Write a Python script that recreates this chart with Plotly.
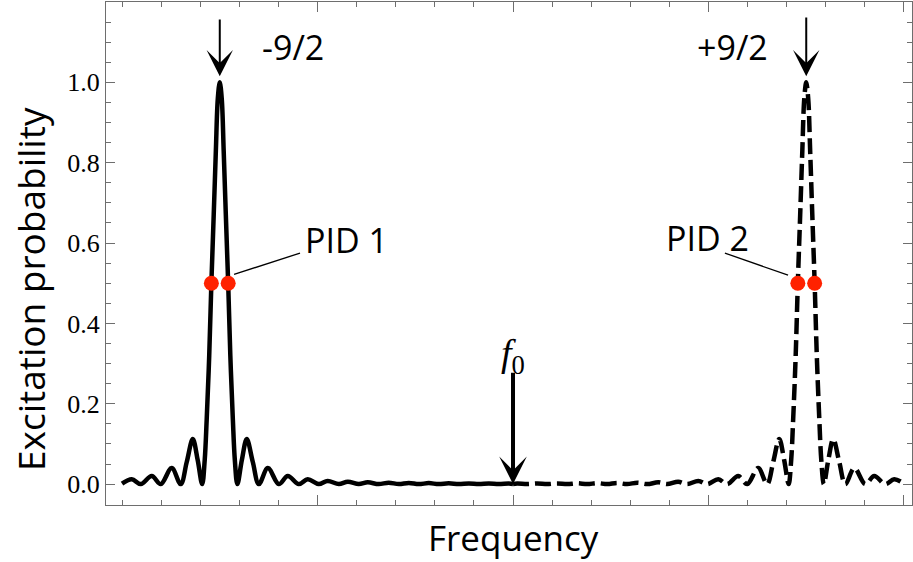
import plotly.graph_objects as go

# ---- data (frequency in arbitrary units, f0 = 0) ----
solid_x = [-2.000, -1.950, -1.904, -1.848, -1.802, -1.746, -1.700, -1.669, -1.638, -1.613,
           -1.590, -1.577, -1.567, -1.554, -1.543, -1.531, -1.520, -1.510, -1.500, -1.490,
           -1.480, -1.469, -1.457, -1.446, -1.433, -1.423, -1.410, -1.387, -1.362, -1.331,
           -1.300, -1.254, -1.198, -1.152, -1.096, -1.050, -0.994, -0.948, -0.891, -0.845,
           -0.789, -0.743, -0.687, -0.636, -0.584, -0.533, -0.482, -0.431, -0.380, -0.329,
           -0.277, -0.226, -0.175, -0.124, -0.073, -0.022, 0.000]
solid_y = [0.001, 0.012, 0.0, 0.020, 0.0, 0.040, 0.0, 0.055, 0.112, 0.060,
           0.0, 0.06, 0.16, 0.32, 0.50, 0.67, 0.83, 0.96, 1.00, 0.96,
           0.83, 0.67, 0.50, 0.32, 0.16, 0.06, 0.0, 0.060, 0.112, 0.055,
           0.0, 0.040, 0.0, 0.020, 0.0, 0.012, 0.0, 0.008, 0.0, 0.006,
           0.0, 0.0045, 0.0, 0.0035, 0.0, 0.003, 0.0, 0.0025, 0.0, 0.002,
           0.0, 0.0018, 0.0, 0.0015, 0.0, 0.0013, 0.0005]

dashed_x = [0.000, 0.022, 0.073, 0.124, 0.175, 0.226, 0.277, 0.329, 0.380, 0.431,
            0.482, 0.533, 0.584, 0.636, 0.687, 0.743, 0.789, 0.845, 0.891, 0.948,
            0.994, 1.050, 1.096, 1.152, 1.198, 1.254, 1.300, 1.331, 1.362, 1.387,
            1.410, 1.423, 1.433, 1.446, 1.457, 1.469, 1.480, 1.490, 1.500, 1.510,
            1.520, 1.531, 1.543, 1.554, 1.567, 1.577, 1.590, 1.613, 1.638, 1.669,
            1.700, 1.746, 1.802, 1.848, 1.904, 1.950, 2.000]
dashed_y = [0.0005, 0.0013, 0.0, 0.0015, 0.0, 0.0018, 0.0, 0.002, 0.0, 0.0025,
            0.0, 0.003, 0.0, 0.0035, 0.0, 0.0045, 0.0, 0.006, 0.0, 0.008,
            0.0, 0.012, 0.0, 0.020, 0.0, 0.040, 0.0, 0.055, 0.112, 0.060,
            0.0, 0.06, 0.16, 0.32, 0.50, 0.67, 0.83, 0.96, 1.00, 0.96,
            0.83, 0.67, 0.50, 0.32, 0.16, 0.06, 0.0, 0.060, 0.112, 0.055,
            0.0, 0.040, 0.0, 0.020, 0.0, 0.012, 0.001]

pid_dots_x = [-1.543, -1.457, 1.457, 1.543]
pid_dots_y = [0.5, 0.5, 0.5, 0.5]

y_major = [0.0, 0.2, 0.4, 0.6, 0.8, 1.0]
y_labels = ["0.0", "0.2", "0.4", "0.6", "0.8", "1.0"]
y_minor = [0.05, 0.1, 0.15, 0.25, 0.3, 0.35, 0.45, 0.5, 0.55, 0.65, 0.7, 0.75,
           0.85, 0.9, 0.95, 1.05, 1.1, 1.15]
x_major = [-1.0, 0.0, 1.0, 2.0]
x_minor = [-2.0, -1.8, -1.6, -1.4, -1.2, -0.8, -0.6, -0.4, -0.2,
           0.2, 0.4, 0.6, 0.8, 1.2, 1.4, 1.6, 1.8]

SANS = "Open Sans"
SERIF = "Liberation Serif"
TICKC = "#6e6e6e"

fig = go.Figure()
fig.add_trace(go.Scatter(x=solid_x, y=solid_y, mode="lines",
                         line=dict(color="black", width=4.5, shape="spline", smoothing=1.0),
                         showlegend=False, hoverinfo="skip"))
fig.add_trace(go.Scatter(x=dashed_x, y=dashed_y, mode="lines",
                         line=dict(color="black", width=4.5, shape="spline", smoothing=1.0,
                                   dash="16px,6px"),
                         showlegend=False, hoverinfo="skip"))
fig.add_trace(go.Scatter(x=pid_dots_x, y=pid_dots_y, mode="markers",
                         marker=dict(color="#ff2200", size=15, line=dict(width=0)),
                         showlegend=False, hoverinfo="skip"))

annotations = []
# arrows
def arrow(x, ytip, ytail, width, size):
    return dict(x=x, y=ytip, ax=x, ay=ytail, xref="x", yref="y", axref="x", ayref="y",
                showarrow=True, arrowhead=3, arrowsize=size, arrowwidth=width,
                arrowcolor="black", text="", standoff=0)

annotations.append(arrow(-1.5, 1.015, 1.160, 2.0, 2.2))
annotations.append(arrow(1.5, 1.015, 1.165, 2.0, 2.2))
annotations.append(arrow(0.0, 0.0, 0.281, 4, 1.15))

def label(text, x, y, size=34, font=SANS):
    return dict(x=x, y=y, xref="x", yref="y", text=text, showarrow=False,
                font=dict(family=font, size=size, color="black"),
                xanchor="center", yanchor="middle")

annotations.append(label("-9/2", -1.125, 1.087))
annotations.append(label("+9/2", 1.125, 1.087))
annotations.append(label("PID 1", -0.854, 0.607))
annotations.append(label("PID 2", 0.997, 0.612))
annotations.append(label("<i>f</i><sub>0</sub>", 0.0, 0.318, size=38, font=SERIF))

# axis titles
annotations.append(dict(x=0.506, y=-0.0656, xref="paper", yref="paper", text="Frequency",
                        showarrow=False, font=dict(family=SANS, size=35, color="black"),
                        xanchor="center", yanchor="middle"))
annotations.append(dict(x=-0.0943, y=0.4294, xref="paper", yref="paper",
                        text="Excitation probability", textangle=-90,
                        showarrow=False, font=dict(family=SANS, size=37, color="black"),
                        xanchor="center", yanchor="middle"))

shapes = [
    dict(type="line", xref="x", yref="y", x0=-1.427, y0=0.522, x1=-1.0895, y1=0.575,
         line=dict(color="black", width=1.3)),
    dict(type="line", xref="x", yref="y", x0=1.084, y0=0.575, x1=1.407, y1=0.520,
         line=dict(color="black", width=1.3)),
]

fig.update_layout(
    width=913, height=562,
    margin=dict(l=106, r=1, t=2, b=57),
    paper_bgcolor="white", plot_bgcolor="white",
    annotations=annotations, shapes=shapes,
    xaxis=dict(range=[-2.082, 2.041], showgrid=False, zeroline=False,
               showline=True, linecolor=TICKC, linewidth=1, mirror="allticks",
               ticks="inside", tickmode="array", tickvals=x_major, ticklen=10,
               tickcolor=TICKC, tickwidth=1, showticklabels=False,
               minor=dict(tickmode="array", tickvals=x_minor, ticks="inside",
                          ticklen=5, tickcolor=TICKC, tickwidth=1, showgrid=False)),
    yaxis=dict(range=[-0.052, 1.2], showgrid=False, zeroline=False,
               showline=True, linecolor=TICKC, linewidth=1, mirror="allticks",
               ticks="inside", tickmode="array", tickvals=y_major, ticktext=y_labels,
               ticklen=9, tickcolor=TICKC, tickwidth=1,
               tickfont=dict(family=SERIF, size=26, color="black"),
               minor=dict(tickmode="array", tickvals=y_minor, ticks="inside",
                          ticklen=5, tickcolor=TICKC, tickwidth=1, showgrid=False)),
)

fig.write_html("out.html")
